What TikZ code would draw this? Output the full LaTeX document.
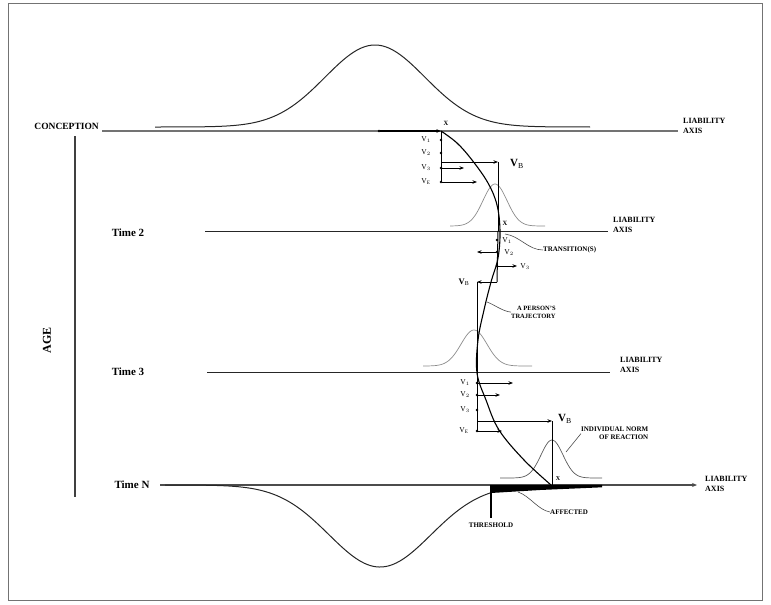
\documentclass[tikz,border=0pt]{standalone}
\usepackage{fontspec}
\setmainfont{Liberation Serif}
\usetikzlibrary{arrows.meta}
\begin{document}
\begin{tikzpicture}[x=1pt,y=-1pt,
  lbl/.style={font=\fontsize{7}{8}\selectfont\bfseries, inner sep=0pt},
  axlbl/.style={font=\fontsize{8}{9}\selectfont\bfseries, inner sep=0pt, align=left, anchor=north west},
  tlbl/.style={font=\fontsize{11}{12}\selectfont\bfseries, inner sep=0pt},
  vlab/.style={font=\fontsize{7.5}{8}\selectfont, inner sep=0pt},
  blab/.style={font=\fontsize{11}{12}\selectfont\bfseries, inner sep=0pt},
  xlab/.style={font=\fontsize{6.5}{7}\selectfont\bfseries, inner sep=0pt},
  axisline/.style={line width=1pt, black!85},
  distline/.style={line width=1pt, black!85},
  lightdist/.style={line width=0.7pt, black!45},
  vec/.style={-{Stealth[length=4.5pt,width=3.5pt]}, line width=0.9pt},
  stem/.style={line width=1pt},
  dotm/.style={circle, fill, inner sep=0.9pt},
  leader/.style={line width=0.6pt, black!70}
]
\useasboundingbox (0,0) rectangle (771,605);
\draw[black!55, line width=1pt] (8,3) rectangle (762,600);

% AGE axis
\coordinate (ageT) at (75,136);
\coordinate (ageB) at (75,497);
\draw[line width=1.1pt, black!75] (ageT) -- (ageB);
\node[tlbl, rotate=90, font=\fontsize{12}{13}\selectfont\bfseries] (age) at (47,340) {AGE};

% liability axes
\coordinate (a0L) at (102,131); \coordinate (a0R) at (678,131);
\coordinate (a2L) at (205,231); \coordinate (a2R) at (608,231);
\coordinate (a3L) at (207,372); \coordinate (a3R) at (610,372);
\coordinate (aNL) at (160,485); \coordinate (aNR) at (697,485);
\draw[line width=1.9pt, black!55] (a0L) -- (a0R);
\draw[axisline] (a2L) -- (a2R);
\draw[axisline] (a3L) -- (a3R);
\draw[line width=1.4pt, black!70, -{Stealth[length=5pt,width=4pt]}] (aNL) -- (aNR);

\node[lbl, anchor=east, font=\fontsize{9.5}{10}\selectfont\bfseries] (concep) at (99,126) {CONCEPTION};
\node[tlbl] (t2) at (128,233) {Time 2};
\node[tlbl] (t3) at (128,372) {Time 3};
\node[tlbl] (tN) at (132,485) {Time N};

\node[axlbl] (la0) at (683,118) {LIABILITY\\[1pt]AXIS};
\node[axlbl] (la2) at (613,217) {LIABILITY\\[1pt]AXIS};
\node[axlbl] (la3) at (620,357) {LIABILITY\\[1pt]AXIS};
\node[axlbl] (laN) at (705,476) {LIABILITY\\[1pt]AXIS};

% distributions
\draw[distline] plot[domain=155:590, samples=150] (\x, {127 - 82*exp(-((\x-375)/50)*((\x-375)/50)/2)});
\draw[distline] plot[domain=165:602, samples=150] (\x, {485 + 82*exp(-((\x-380)/51)*((\x-380)/51)/2)});
\fill[black] (491,485) -- (491,493) -- (540,490) -- (602,487.3) -- (602,485) -- cycle;
\draw[lightdist] plot[domain=450:545, samples=80] (\x, {226 - 42*exp(-((\x-495)/12)*((\x-495)/12)/2)});
\draw[lightdist] plot[domain=423:532, samples=80] (\x, {366 - 36*exp(-((\x-474)/13)*((\x-474)/13)/2)});
\draw[lightdist, black!65] plot[domain=500:602, samples=80] (\x, {478 - 38*exp(-((\x-552)/11)*((\x-552)/11)/2)});

% trajectory
\draw[line width=1.1pt] plot[smooth, tension=0.6] coordinates {(441,131) (457,143) (472,160) (488,183) (497,205) (500,231) (498,258) (491,282) (484,310) (478,340) (477,373) (486,400) (499,430) (524,460) (551,485)};

% conception mean
\node[dotm] (m0) at (379,131) {};
\coordinate (x0) at (441,131);
\draw[vec, line width=1.2pt] (m0) -- (x0);
\node[xlab] (X0) at (446,123) {X};

% top stack
\coordinate (s0b) at (441,182);
\draw[stem] (x0) -- (s0b);
\node[dotm] (d01) at (441,140) {};
\node[dotm] (d02) at (441,153) {};
\node[dotm] (d03) at (441,168) {};
\node[dotm] (d04) at (441,182) {};
\node[vlab] (v01) at (426,140) {V$_1$};
\node[vlab] (v02) at (426,153) {V$_2$};
\node[vlab] (v03) at (426,168) {V$_3$};
\node[vlab] (v04) at (426,182) {V$_\mathrm{E}$};
\coordinate (b0s) at (441,162); \coordinate (b0e) at (498,162);
\draw[vec] (b0s) -- (b0e);
\node[blab] (VB0) at (517,164) {V$_\mathrm{B}$};
\coordinate (e03) at (464,168);
\draw[vec] (d03) -- (e03);
\coordinate (e04) at (477,182);
\draw[vec] (d04) -- (e04);
\coordinate (x2) at (498,231);
\draw[stem] (b0e) -- (x2);
\node[xlab] (X2) at (505,223) {X};

% time 2 stack
\coordinate (s2b) at (497,282);
\draw[stem] (x2) -- (s2b);
\node[dotm] (d21) at (497,240) {};
\node[dotm] (d22) at (497,252) {};
\node[dotm] (d23) at (497,266) {};
\node[vlab] (v21) at (507,241) {V$_1$};
\node[vlab] (v22) at (509,253) {V$_2$};
\node[vlab] (v23) at (525,267) {V$_3$};
\coordinate (e22) at (477,252);
\draw[vec] (d22) -- (e22);
\coordinate (e23) at (517,266);
\draw[vec] (d23) -- (e23);
\coordinate (b2e) at (477,282);
\draw[vec] (s2b) -- (b2e);
\node[vlab, font=\fontsize{8.5}{9}\selectfont\bfseries] (VB2) at (464,282) {V$_\mathrm{B}$};

% time 3 stack
\coordinate (s3b) at (477,432);
\draw[stem] (b2e) -- (s3b);
\node[dotm] (d31) at (477,383) {};
\node[dotm] (d32) at (477,395) {};
\node[dotm] (d33) at (477,410) {};
\node[dotm] (d34) at (477,431) {};
\node[vlab] (v31) at (465,383) {V$_1$};
\node[vlab] (v32) at (465,395) {V$_2$};
\node[vlab] (v33) at (465,410) {V$_3$};
\node[vlab] (v34) at (464,431) {V$_\mathrm{E}$};
\coordinate (e31) at (513,383);
\draw[vec] (d31) -- (e31);
\coordinate (e32) at (500,395);
\draw[vec] (d32) -- (e32);
\coordinate (b3s) at (477,421); \coordinate (b3e) at (552,421);
\draw[vec] (b3s) -- (b3e);
\node[blab] (VB3) at (565,419) {V$_\mathrm{B}$};
\coordinate (e34) at (502,431);
\draw[vec] (d34) -- (e34);
\coordinate (xN) at (552,485);
\draw[stem] (b3e) -- (xN);
\node[xlab, font=\fontsize{6}{7}\selectfont\bfseries] (XN) at (558,479) {X};

% threshold
\coordinate (thT) at (491,485); \coordinate (thB) at (491,518);
\draw[line width=1.1pt] (thT) -- (thB);
\node[lbl] (thr) at (491,525) {THRESHOLD};

% labels with leaders
\node[lbl, anchor=west] (trans) at (543,250) {TRANSITION(S)};
\coordinate (tr0) at (505,234);
\draw[leader] (tr0) .. controls (520,236) and (528,250) .. (trans.west);

\node[lbl, align=right, anchor=north west, font=\fontsize{6.5}{7.5}\selectfont\bfseries] (pers) at (511,306) {A PERSON'S\\TRAJECTORY};
\coordinate (pr0) at (487,302);
\draw[leader] (pr0) .. controls (495,305) and (502,311) .. (pers.west);

\node[lbl, align=right, anchor=north west] (norm) at (581,427) {INDIVIDUAL NORM\\OF REACTION};
\coordinate (nr0) at (566,452);
\draw[leader] (norm.west) -- (nr0);

\node[lbl, anchor=west] (aff) at (550,512) {AFFECTED};
\coordinate (af0) at (518,492);
\draw[leader] (af0) .. controls (530,496) and (538,510) .. (aff.west);

\end{tikzpicture}
\end{document}
